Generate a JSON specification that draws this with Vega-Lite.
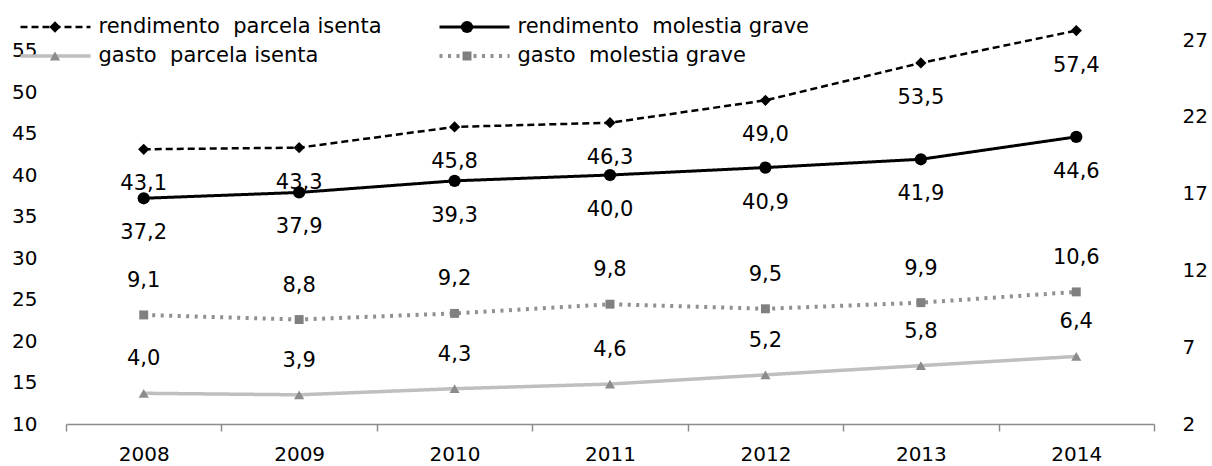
{
  "$schema": "https://vega.github.io/schema/vega-lite/v6.json",
  "width": 1088,
  "height": 384,
  "autosize": {"type": "none"},
  "padding": {"left": 66, "top": 40, "right": 58, "bottom": 42},
  "background": "white",
  "config": {
    "view": {"stroke": null},
    "font": "DejaVu Sans",
    "locale": {"number": {"decimal": ",", "thousands": ".", "grouping": [3], "currency": ["", "€"]}},
    "axis": {"grid": false, "labelFont": "DejaVu Sans", "labelFontSize": 20, "labelColor": "#000"}
  },
  "data": {
    "values": [
      {"ano": "2008", "tipo": "rendimento", "serie": "rendimento\u00a0 parcela isenta", "valor": 43.1},
      {"ano": "2009", "tipo": "rendimento", "serie": "rendimento\u00a0 parcela isenta", "valor": 43.3},
      {"ano": "2010", "tipo": "rendimento", "serie": "rendimento\u00a0 parcela isenta", "valor": 45.8},
      {"ano": "2011", "tipo": "rendimento", "serie": "rendimento\u00a0 parcela isenta", "valor": 46.3},
      {"ano": "2012", "tipo": "rendimento", "serie": "rendimento\u00a0 parcela isenta", "valor": 49.0},
      {"ano": "2013", "tipo": "rendimento", "serie": "rendimento\u00a0 parcela isenta", "valor": 53.5},
      {"ano": "2014", "tipo": "rendimento", "serie": "rendimento\u00a0 parcela isenta", "valor": 57.4},
      {"ano": "2008", "tipo": "rendimento", "serie": "rendimento\u00a0 molestia grave", "valor": 37.2},
      {"ano": "2009", "tipo": "rendimento", "serie": "rendimento\u00a0 molestia grave", "valor": 37.9},
      {"ano": "2010", "tipo": "rendimento", "serie": "rendimento\u00a0 molestia grave", "valor": 39.3},
      {"ano": "2011", "tipo": "rendimento", "serie": "rendimento\u00a0 molestia grave", "valor": 40.0},
      {"ano": "2012", "tipo": "rendimento", "serie": "rendimento\u00a0 molestia grave", "valor": 40.9},
      {"ano": "2013", "tipo": "rendimento", "serie": "rendimento\u00a0 molestia grave", "valor": 41.9},
      {"ano": "2014", "tipo": "rendimento", "serie": "rendimento\u00a0 molestia grave", "valor": 44.6},
      {"ano": "2008", "tipo": "gasto", "serie": "gasto\u00a0 parcela isenta", "valor": 4.0},
      {"ano": "2009", "tipo": "gasto", "serie": "gasto\u00a0 parcela isenta", "valor": 3.9},
      {"ano": "2010", "tipo": "gasto", "serie": "gasto\u00a0 parcela isenta", "valor": 4.3},
      {"ano": "2011", "tipo": "gasto", "serie": "gasto\u00a0 parcela isenta", "valor": 4.6},
      {"ano": "2012", "tipo": "gasto", "serie": "gasto\u00a0 parcela isenta", "valor": 5.2},
      {"ano": "2013", "tipo": "gasto", "serie": "gasto\u00a0 parcela isenta", "valor": 5.8},
      {"ano": "2014", "tipo": "gasto", "serie": "gasto\u00a0 parcela isenta", "valor": 6.4},
      {"ano": "2008", "tipo": "gasto", "serie": "gasto\u00a0 molestia grave", "valor": 9.1},
      {"ano": "2009", "tipo": "gasto", "serie": "gasto\u00a0 molestia grave", "valor": 8.8},
      {"ano": "2010", "tipo": "gasto", "serie": "gasto\u00a0 molestia grave", "valor": 9.2},
      {"ano": "2011", "tipo": "gasto", "serie": "gasto\u00a0 molestia grave", "valor": 9.8},
      {"ano": "2012", "tipo": "gasto", "serie": "gasto\u00a0 molestia grave", "valor": 9.5},
      {"ano": "2013", "tipo": "gasto", "serie": "gasto\u00a0 molestia grave", "valor": 9.9},
      {"ano": "2014", "tipo": "gasto", "serie": "gasto\u00a0 molestia grave", "valor": 10.6}
    ]
  },
  "encoding": {
    "x": {
      "field": "ano", "type": "ordinal",
      "scale": {"type": "band", "paddingInner": 0, "paddingOuter": 0},
      "axis": {"title": null, "labelAngle": 0, "tickBand": "extent", "domainColor": "#8c8c8c", "tickColor": "#8c8c8c", "tickSize": 7, "domainWidth": 1.5, "tickWidth": 1.5, "labelPadding": 13, "labelFontSize": 20}
    }
  },
  "layer": [
    {
      "transform": [{"filter": "datum.tipo === 'rendimento'"}],
      "encoding": {
        "y": {
          "field": "valor", "type": "quantitative",
          "scale": {"domain": [10, 56.27], "nice": false, "zero": false},
          "axis": {"orient": "left", "title": null, "domain": false, "ticks": false, "values": [10, 15, 20, 25, 30, 35, 40, 45, 50, 55], "format": "d", "labelPadding": 29}
        }
      },
      "layer": [
        {
          "mark": {"type": "line", "strokeCap": "butt"},
          "encoding": {
            "stroke": {"field": "serie", "type": "nominal",
              "scale": {"domain": ["rendimento\u00a0 parcela isenta", "rendimento\u00a0 molestia grave", "gasto\u00a0 parcela isenta", "gasto\u00a0 molestia grave"], "range": ["#000000", "#000000", "#bfbfbf", "#909090"]},
              "legend": {"orient": "none", "direction": "horizontal", "legendX": -47.5, "legendY": -23.5, "columns": 2, "title": null, "symbolType": "stroke", "symbolSize": 4900, "clipHeight": 21, "rowPadding": 7, "columnPadding": 55, "labelOffset": 6, "labelFontSize": 21, "labelFont": "DejaVu Sans", "labelColor": "#000", "labelLimit": 0, "padding": 0}},
            "strokeDash": {"field": "serie", "type": "nominal",
              "scale": {"domain": ["rendimento\u00a0 parcela isenta", "rendimento\u00a0 molestia grave", "gasto\u00a0 parcela isenta", "gasto\u00a0 molestia grave"], "range": [[7, 4], [1, 0], [1, 0], [3, 5.5]]},
              "legend": {"orient": "none", "direction": "horizontal", "legendX": -47.5, "legendY": -23.5, "columns": 2, "title": null, "symbolType": "stroke", "symbolSize": 4900, "clipHeight": 21, "rowPadding": 7, "columnPadding": 55, "labelOffset": 6, "labelFontSize": 21, "labelFont": "DejaVu Sans", "labelColor": "#000", "labelLimit": 0, "padding": 0}},
            "strokeWidth": {"field": "serie", "type": "nominal",
              "scale": {"domain": ["rendimento\u00a0 parcela isenta", "rendimento\u00a0 molestia grave", "gasto\u00a0 parcela isenta", "gasto\u00a0 molestia grave"], "range": [2.5, 4, 4, 3]},
              "legend": {"orient": "none", "direction": "horizontal", "legendX": -47.5, "legendY": -23.5, "columns": 2, "title": null, "symbolType": "stroke", "symbolSize": 4900, "clipHeight": 21, "rowPadding": 7, "columnPadding": 55, "labelOffset": 6, "labelFontSize": 21, "labelFont": "DejaVu Sans", "labelColor": "#000", "labelLimit": 0, "padding": 0}}
          }
        },
        {
          "mark": {"type": "point", "filled": true, "opacity": 1, "strokeWidth": 0},
          "encoding": {
            "fill": {"field": "serie", "type": "nominal",
              "scale": {"domain": ["rendimento\u00a0 molestia grave", "rendimento\u00a0 parcela isenta", "gasto\u00a0 parcela isenta", "gasto\u00a0 molestia grave"], "range": ["#000000", "#000000", "#8c8c8c", "#808080"]},
              "legend": {"orient": "none", "direction": "horizontal", "legendX": -21.5, "legendY": -23.5, "columns": 2, "title": null, "values": ["rendimento\u00a0 parcela isenta", "rendimento\u00a0 molestia grave", "gasto\u00a0 parcela isenta", "gasto\u00a0 molestia grave"], "clipHeight": 21, "rowPadding": 7, "columnPadding": 385, "labelOffset": 6, "labelFontSize": 21, "labelExpr": "''", "labelLimit": 0, "padding": 0, "symbolStrokeWidth": 0}},
            "shape": {"field": "serie", "type": "nominal",
              "scale": {"domain": ["rendimento\u00a0 molestia grave", "rendimento\u00a0 parcela isenta", "gasto\u00a0 parcela isenta", "gasto\u00a0 molestia grave"], "range": ["circle", "diamond", "triangle-up", "square"]},
              "legend": {"orient": "none", "direction": "horizontal", "legendX": -21.5, "legendY": -23.5, "columns": 2, "title": null, "values": ["rendimento\u00a0 parcela isenta", "rendimento\u00a0 molestia grave", "gasto\u00a0 parcela isenta", "gasto\u00a0 molestia grave"], "clipHeight": 21, "rowPadding": 7, "columnPadding": 385, "labelOffset": 6, "labelFontSize": 21, "labelExpr": "''", "labelLimit": 0, "padding": 0, "symbolStrokeWidth": 0}},
            "size": {"field": "serie", "type": "nominal",
              "scale": {"domain": ["rendimento\u00a0 molestia grave", "rendimento\u00a0 parcela isenta", "gasto\u00a0 parcela isenta", "gasto\u00a0 molestia grave"], "range": [150, 80, 130, 160]},
              "legend": {"orient": "none", "direction": "horizontal", "legendX": -21.5, "legendY": -23.5, "columns": 2, "title": null, "values": ["rendimento\u00a0 parcela isenta", "rendimento\u00a0 molestia grave", "gasto\u00a0 parcela isenta", "gasto\u00a0 molestia grave"], "clipHeight": 21, "rowPadding": 7, "columnPadding": 385, "labelOffset": 6, "labelFontSize": 21, "labelExpr": "''", "labelLimit": 0, "padding": 0, "symbolStrokeWidth": 0}}
          }
        },
        {
          "mark": {"type": "text", "dy": 35, "fontSize": 21, "font": "DejaVu Sans", "color": "#000", "baseline": "middle"},
          "encoding": {"text": {"field": "valor", "type": "quantitative", "format": ".1f"}}
        }
      ]
    },
    {
      "transform": [{"filter": "datum.tipo === 'gasto'"}],
      "encoding": {
        "y": {
          "field": "valor", "type": "quantitative",
          "scale": {"domain": [2, 27], "nice": false, "zero": false},
          "axis": {"orient": "right", "title": null, "domain": false, "ticks": false, "values": [2, 7, 12, 17, 22, 27], "format": "d", "labelPadding": 28}
        }
      },
      "layer": [
        {
          "mark": {"type": "line", "strokeCap": "butt"},
          "encoding": {
            "stroke": {"field": "serie", "type": "nominal",
              "scale": {"domain": ["rendimento\u00a0 parcela isenta", "rendimento\u00a0 molestia grave", "gasto\u00a0 parcela isenta", "gasto\u00a0 molestia grave"], "range": ["#000000", "#000000", "#bfbfbf", "#909090"]},
              "legend": {"orient": "none", "direction": "horizontal", "legendX": -47.5, "legendY": -23.5, "columns": 2, "title": null, "symbolType": "stroke", "symbolSize": 4900, "clipHeight": 21, "rowPadding": 7, "columnPadding": 55, "labelOffset": 6, "labelFontSize": 21, "labelFont": "DejaVu Sans", "labelColor": "#000", "labelLimit": 0, "padding": 0}},
            "strokeDash": {"field": "serie", "type": "nominal",
              "scale": {"domain": ["rendimento\u00a0 parcela isenta", "rendimento\u00a0 molestia grave", "gasto\u00a0 parcela isenta", "gasto\u00a0 molestia grave"], "range": [[7, 4], [1, 0], [1, 0], [3, 5.5]]},
              "legend": {"orient": "none", "direction": "horizontal", "legendX": -47.5, "legendY": -23.5, "columns": 2, "title": null, "symbolType": "stroke", "symbolSize": 4900, "clipHeight": 21, "rowPadding": 7, "columnPadding": 55, "labelOffset": 6, "labelFontSize": 21, "labelFont": "DejaVu Sans", "labelColor": "#000", "labelLimit": 0, "padding": 0}},
            "strokeWidth": {"field": "serie", "type": "nominal",
              "scale": {"domain": ["rendimento\u00a0 parcela isenta", "rendimento\u00a0 molestia grave", "gasto\u00a0 parcela isenta", "gasto\u00a0 molestia grave"], "range": [2.5, 4, 4, 3]},
              "legend": {"orient": "none", "direction": "horizontal", "legendX": -47.5, "legendY": -23.5, "columns": 2, "title": null, "symbolType": "stroke", "symbolSize": 4900, "clipHeight": 21, "rowPadding": 7, "columnPadding": 55, "labelOffset": 6, "labelFontSize": 21, "labelFont": "DejaVu Sans", "labelColor": "#000", "labelLimit": 0, "padding": 0}}
          }
        },
        {
          "mark": {"type": "point", "filled": true, "opacity": 1, "strokeWidth": 0},
          "encoding": {
            "fill": {"field": "serie", "type": "nominal",
              "scale": {"domain": ["rendimento\u00a0 molestia grave", "rendimento\u00a0 parcela isenta", "gasto\u00a0 parcela isenta", "gasto\u00a0 molestia grave"], "range": ["#000000", "#000000", "#8c8c8c", "#808080"]},
              "legend": {"orient": "none", "direction": "horizontal", "legendX": -21.5, "legendY": -23.5, "columns": 2, "title": null, "values": ["rendimento\u00a0 parcela isenta", "rendimento\u00a0 molestia grave", "gasto\u00a0 parcela isenta", "gasto\u00a0 molestia grave"], "clipHeight": 21, "rowPadding": 7, "columnPadding": 385, "labelOffset": 6, "labelFontSize": 21, "labelExpr": "''", "labelLimit": 0, "padding": 0, "symbolStrokeWidth": 0}},
            "shape": {"field": "serie", "type": "nominal",
              "scale": {"domain": ["rendimento\u00a0 molestia grave", "rendimento\u00a0 parcela isenta", "gasto\u00a0 parcela isenta", "gasto\u00a0 molestia grave"], "range": ["circle", "diamond", "triangle-up", "square"]},
              "legend": {"orient": "none", "direction": "horizontal", "legendX": -21.5, "legendY": -23.5, "columns": 2, "title": null, "values": ["rendimento\u00a0 parcela isenta", "rendimento\u00a0 molestia grave", "gasto\u00a0 parcela isenta", "gasto\u00a0 molestia grave"], "clipHeight": 21, "rowPadding": 7, "columnPadding": 385, "labelOffset": 6, "labelFontSize": 21, "labelExpr": "''", "labelLimit": 0, "padding": 0, "symbolStrokeWidth": 0}},
            "size": {"field": "serie", "type": "nominal",
              "scale": {"domain": ["rendimento\u00a0 molestia grave", "rendimento\u00a0 parcela isenta", "gasto\u00a0 parcela isenta", "gasto\u00a0 molestia grave"], "range": [150, 80, 130, 160]},
              "legend": {"orient": "none", "direction": "horizontal", "legendX": -21.5, "legendY": -23.5, "columns": 2, "title": null, "values": ["rendimento\u00a0 parcela isenta", "rendimento\u00a0 molestia grave", "gasto\u00a0 parcela isenta", "gasto\u00a0 molestia grave"], "clipHeight": 21, "rowPadding": 7, "columnPadding": 385, "labelOffset": 6, "labelFontSize": 21, "labelExpr": "''", "labelLimit": 0, "padding": 0, "symbolStrokeWidth": 0}}
          }
        },
        {
          "mark": {"type": "text", "dy": -34, "fontSize": 21, "font": "DejaVu Sans", "color": "#000", "baseline": "middle"},
          "encoding": {"text": {"field": "valor", "type": "quantitative", "format": ".1f"}}
        }
      ]
    }
  ],
  "resolve": {"scale": {"y": "independent"}}
}
